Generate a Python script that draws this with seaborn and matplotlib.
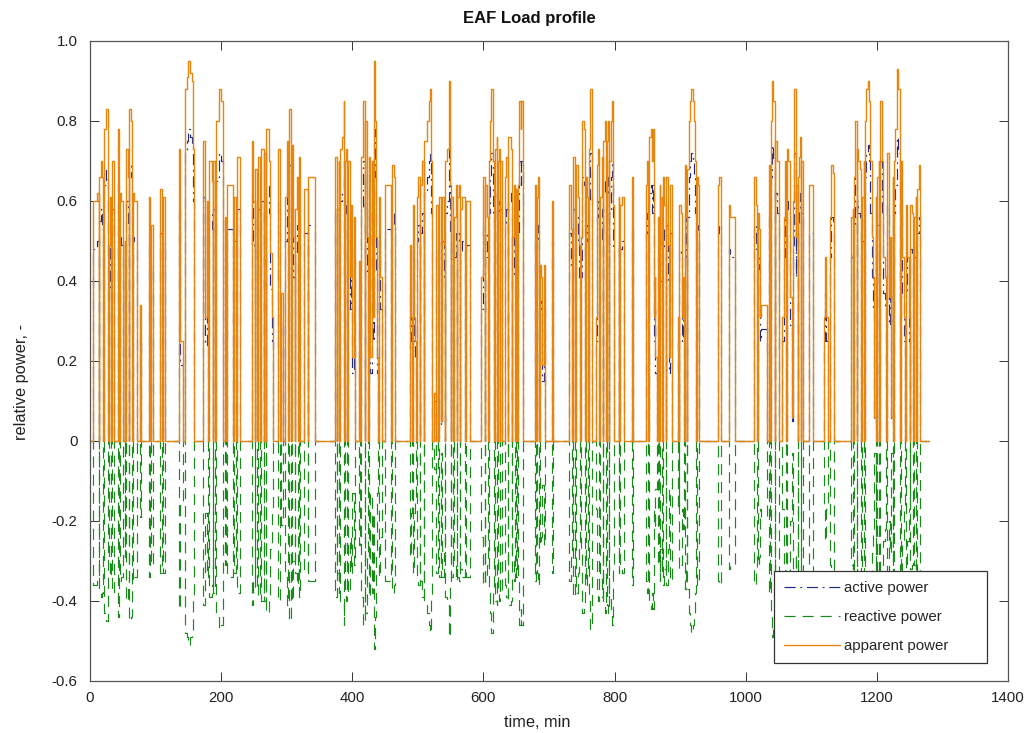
import matplotlib
matplotlib.use("Agg")
import matplotlib.pyplot as plt
import numpy as np
import pandas as pd
import seaborn as sns

# ---------------- data (step values) ----------------
time_min = [
    0, 5, 10, 13, 14, 17, 19, 20, 21, 24, 27, 28, 29, 31, 32, 33, 36, 37, 42, 44, 45, 47, 50, 53, 54, 55, 58, 59, 60, 63, 64, 65, 67, 72, 76, 78,
    90, 92, 93, 96, 107, 110, 111, 115, 136, 138, 142, 145, 148, 150, 153, 155, 157, 159,
    173, 176, 178, 180, 181, 186, 187, 188, 190, 191, 192, 197, 200, 203, 206, 208, 209, 218, 219, 223, 224, 228,
    247, 249, 251, 252, 254, 255, 256, 260, 261, 265, 266, 268, 269, 273, 275, 277, 279, 286, 290, 292, 295, 298, 300, 302, 303, 306, 307, 308, 310, 312, 313, 315, 317, 318, 320, 326, 332, 333, 343,
    373, 376, 377, 379, 380, 381, 384, 387, 388, 389, 391, 392, 393, 396, 398, 400, 402, 404, 410, 412, 413, 417, 419, 420, 423, 424, 425, 427, 430, 431, 433, 435, 436, 438, 439, 440, 442, 445, 450, 459, 460, 463, 465,
    488, 490, 491, 492, 494, 496, 497, 498, 500, 503, 504, 507, 509, 510, 514, 517, 519, 520, 522, 525, 527, 528, 530, 531, 532, 535, 537, 540, 541, 542, 545, 547, 549, 550, 551, 553, 554, 555, 558, 559, 560, 563, 564, 565, 568, 572, 573, 580,
    596, 599, 602, 603, 606, 607, 608, 610, 612, 615, 616, 617, 620, 621, 622, 624, 625, 626, 628, 633, 635, 637, 638, 642, 643, 644, 647, 648, 649, 651, 653, 655, 657, 658, 660, 678, 680, 681, 683, 685, 686, 688, 690, 692, 694, 704, 706,
    731, 734, 735, 736, 739, 740, 741, 744, 746, 748, 749, 751, 754, 755, 756, 758, 760, 761, 763, 765, 772, 773, 775, 776, 778, 781, 782, 783, 786, 787, 788, 790, 791, 792, 794, 796, 797, 799, 806, 807, 808, 812, 815, 826, 828,
    848, 850, 851, 852, 855, 857, 858, 860, 861, 862, 864, 866, 868, 869, 870, 872, 873, 874, 876, 878, 879, 881, 883, 885, 887, 897, 898, 899, 901, 903, 905, 906, 907, 909, 910, 911, 913, 915, 917, 919, 921, 923, 924, 925, 927, 929,
    958, 960, 962, 963, 974, 976, 984, 1012, 1015, 1017, 1018, 1020, 1022, 1024, 1032, 1035, 1037, 1038, 1040, 1042, 1044, 1045, 1047, 1050, 1051,
    1056, 1058, 1060, 1062, 1063, 1065, 1068, 1070, 1072, 1074, 1076, 1077, 1079, 1080, 1082, 1083, 1084, 1085, 1087, 1096, 1103, 1119, 1121, 1123, 1125, 1128, 1130, 1133, 1134,
    1160, 1163, 1164, 1165, 1167, 1169, 1170, 1172, 1175, 1176, 1177, 1180, 1181, 1182, 1184, 1186, 1188, 1190, 1192, 1194, 1196, 1198, 1199, 1200, 1203, 1204, 1205, 1208, 1210, 1213, 1214, 1215, 1218, 1220, 1222, 1224, 1225, 1226,
    1228, 1231, 1233, 1235, 1236, 1237, 1239, 1241, 1243, 1244, 1246, 1249, 1250, 1251, 1254, 1255, 1256, 1259, 1260, 1261, 1264, 1266, 1280,
]

apparent_power = [
    0, .60, .62, 0, .66, .70, .66, 0, .78, .83, .76, 0, .49, .61, 0, .70, .52, 0, .78, 0, .62, .60, 0, .50, 0, .73, .66, 0, .83, .80, 0, .62, .60, 0, .34, 0,
    .61, 0, .54, 0, .63, 0, .61, 0, .73, .25, 0, .88, .91, .95, .92, .90, .73, 0,
    .75, .31, .60, 0, .70, .65, 0, .70, .41, 0, .80, .88, .85, 0, .56, 0, .64, 0, .61, 0, .71, 0,
    .75, .60, 0, .68, .45, 0, .71, 0, .73, 0, .72, 0, .78, .70, .47, .31, 0, .73, 0, .37, 0, .61, .75, 0, .83, .70, 0, .74, .51, 0, .58, .66, 0, .71, 0, .63, 0, .66, 0,
    .71, 0, .58, .70, 0, .73, .76, .85, 0, .70, .73, 0, .70, .41, .59, .21, .56, 0, .45, 0, .71, .85, 0, .80, .51, 0, .71, .21, .70, .31, .95, .80, .51, .21, 0, .61, .41, 0, .64, 0, .69, .66, 0,
    .49, .31, 0, .59, .31, .25, 0, .61, .66, 0, .64, .70, 0, .75, .80, .85, .88, .70, 0, .12, 0, .59, .49, 0, .61, .05, .61, .49, 0, .70, .73, .90, .64, 0, .61, .49, 0, .56, .64, 0, .61, .64, 0, .58, .61, 0, .60, 0,
    .41, .66, 0, .64, .56, 0, .70, .80, .88, .70, 0, .73, .76, 0, .70, .73, 0, .70, 0, .66, .71, 0, .76, .73, 0, .51, .64, 0, .63, 0, .64, .85, .78, .85, 0, .64, 0, .61, .66, 0, .44, .41, .19, .44, 0, .60, 0,
    .64, .53, 0, .71, .53, 0, .69, .61, .49, 0, .51, .80, .78, 0, .66, .61, 0, .73, .88, 0, .31, .69, .73, 0, .61, .71, 0, .75, .80, 0, .75, .80, 0, .70, .80, .85, .59, 0, .61, 0, .59, .61, 0, .66, 0,
    .64, .70, 0, .76, .78, .70, .78, .31, .41, .21, 0, .56, 0, .64, .49, .61, 0, .66, .59, 0, .66, .49, .21, .64, 0, .31, 0, .59, .57, .31, .41, 0, .69, .56, 0, .68, .80, .85, .88, .85, .80, .70, 0, .66, .64, 0,
    .64, .66, .64, 0, .59, .56, 0, .66, .59, 0, .57, .53, .31, .34, 0, .69, 0, .80, .90, .85, 0, .75, .70, .51, 0,
    .31, .56, .70, 0, .73, .70, .36, .06, .60, .88, .51, .64, 0, .66, .71, .76, 0, .70, 0, .64, 0, .31, .46, .31, 0, .56, .69, .67, 0,
    .56, .58, 0, .66, .80, 0, .73, .70, .68, 0, .61, .70, 0, .80, .88, .90, .85, .70, .51, .41, .06, .61, 0, .66, .70, 0, .85, .70, .46, .41, 0, .72, .36, .51, .06, .66, 0, .70,
    .78, .93, .88, .61, 0, .70, .46, .31, 0, .59, .46, .31, 0, .59, .57, 0, .56, .61, 0, .63, .69, 0, 0,
]

active_power = [
    0, .48, .50, 0, .55, .58, .53, 0, .64, .68, .62, 0, .38, .50, 0, .58, .42, 0, .64, 0, .51, .49, 0, .40, 0, .60, .54, 0, .69, .66, 0, .51, .50, 0, .27, 0,
    .50, 0, .44, 0, .52, 0, .50, 0, .59, .19, 0, .72, .75, .78, .76, .74, .60, 0,
    .61, .24, .49, 0, .57, .53, 0, .58, .33, 0, .65, .72, .70, 0, .46, 0, .53, 0, .50, 0, .58, 0,
    .62, .49, 0, .56, .36, 0, .58, 0, .60, 0, .59, 0, .64, .57, .38, .25, 0, .60, 0, .30, 0, .50, .62, 0, .69, .58, 0, .61, .41, 0, .47, .54, 0, .58, 0, .52, 0, .54, 0,
    .58, 0, .47, .57, 0, .60, .62, .70, 0, .57, .60, 0, .58, .33, .48, .17, .46, 0, .36, 0, .58, .70, 0, .66, .42, 0, .58, .17, .58, .25, .78, .66, .42, .17, 0, .50, .33, 0, .53, 0, .57, .54, 0,
    .39, .25, 0, .48, .25, .20, 0, .50, .54, 0, .52, .57, 0, .62, .66, .70, .72, .57, 0, .10, 0, .48, .40, 0, .50, .04, .50, .40, 0, .57, .60, .74, .52, 0, .50, .40, 0, .46, .52, 0, .50, .52, 0, .47, .50, 0, .49, 0,
    .33, .54, 0, .52, .46, 0, .57, .66, .72, .57, 0, .60, .62, 0, .57, .60, 0, .58, 0, .54, .58, 0, .62, .60, 0, .41, .52, 0, .52, 0, .52, .70, .64, .70, 0, .53, 0, .50, .54, 0, .35, .33, .15, .35, 0, .50, 0,
    .52, .43, 0, .58, .43, 0, .56, .50, .40, 0, .41, .66, .64, 0, .54, .50, 0, .60, .72, 0, .25, .56, .60, 0, .50, .58, 0, .62, .66, 0, .62, .66, 0, .57, .66, .70, .48, 0, .50, 0, .48, .50, 0, .54, 0,
    .52, .57, 0, .62, .64, .57, .64, .25, .33, .17, 0, .46, 0, .52, .40, .50, 0, .54, .48, 0, .54, .40, .17, .52, 0, .25, 0, .48, .46, .25, .33, 0, .56, .46, 0, .56, .66, .70, .72, .70, .66, .57, 0, .54, .52, 0,
    .52, .54, .52, 0, .48, .46, 0, .54, .48, 0, .46, .43, .25, .28, 0, .56, 0, .66, .74, .70, 0, .62, .57, .41, 0,
    .25, .46, .57, 0, .60, .57, .29, .05, .49, .72, .41, .52, 0, .54, .58, .62, 0, .57, 0, .52, 0, .25, .37, .25, 0, .46, .56, .55, 0,
    .46, .47, 0, .54, .66, 0, .60, .57, .56, 0, .50, .57, 0, .66, .72, .74, .70, .57, .41, .33, .05, .50, 0, .54, .57, 0, .70, .57, .37, .33, 0, .59, .29, .41, .05, .54, 0, .57,
    .64, .76, .72, .50, 0, .57, .37, .25, 0, .48, .37, .25, 0, .48, .47, 0, .46, .50, 0, .52, .56, 0, 0,
]

reactive_power = [
    0, -.36, -.35, 0, -.37, -.39, -.38, 0, -.43, -.45, -.42, 0, -.30, -.34, 0, -.38, -.30, 0, -.44, 0, -.35, -.34, 0, -.29, 0, -.40, -.37, 0, -.45, -.44, 0, -.35, -.34, 0, -.19, 0,
    -.34, 0, -.31, 0, -.33, 0, -.33, 0, -.42, -.15, 0, -.48, -.49, -.51, -.49, -.48, -.40, 0,
    -.41, -.18, -.34, 0, -.39, -.36, 0, -.38, -.24, 0, -.43, -.47, -.46, 0, -.31, 0, -.34, 0, -.33, 0, -.38, 0,
    -.41, -.34, 0, -.37, -.27, 0, -.39, 0, -.40, 0, -.40, 0, -.43, -.39, -.27, -.18, 0, -.40, 0, -.21, 0, -.34, -.41, 0, -.45, -.38, 0, -.40, -.30, 0, -.33, -.36, 0, -.39, 0, -.33, 0, -.35, 0,
    -.39, 0, -.33, -.38, 0, -.40, -.41, -.46, 0, -.38, -.40, 0, -.38, -.24, -.33, -.13, -.31, 0, -.26, 0, -.39, -.46, 0, -.43, -.29, 0, -.39, -.13, -.38, -.18, -.52, -.44, -.29, -.13, 0, -.34, -.24, 0, -.35, 0, -.38, -.36, 0,
    -.29, -.18, 0, -.33, -.18, -.15, 0, -.34, -.36, 0, -.35, -.39, 0, -.41, -.43, -.46, -.48, -.39, 0, -.07, 0, -.33, -.28, 0, -.34, -.03, -.34, -.28, 0, -.39, -.40, -.49, -.36, 0, -.34, -.28, 0, -.31, -.35, 0, -.34, -.35, 0, -.32, -.34, 0, -.34, 0,
    -.24, -.36, 0, -.35, -.31, 0, -.38, -.43, -.48, -.38, 0, -.40, -.41, 0, -.38, -.40, 0, -.38, 0, -.36, -.39, 0, -.41, -.40, 0, -.29, -.35, 0, -.34, 0, -.35, -.46, -.42, -.46, 0, -.35, 0, -.33, -.36, 0, -.26, -.24, -.11, -.26, 0, -.33, 0,
    -.35, -.29, 0, -.39, -.29, 0, -.38, -.33, -.27, 0, -.28, -.43, -.42, 0, -.36, -.33, 0, -.40, -.47, 0, -.17, -.37, -.40, 0, -.33, -.39, 0, -.41, -.43, 0, -.41, -.43, 0, -.38, -.43, -.46, -.32, 0, -.33, 0, -.32, -.33, 0, -.36, 0,
    -.35, -.38, 0, -.41, -.42, -.38, -.42, -.17, -.22, -.12, 0, -.31, 0, -.35, -.27, -.33, 0, -.36, -.32, 0, -.36, -.27, -.12, -.35, 0, -.17, 0, -.32, -.31, -.17, -.22, 0, -.37, -.31, 0, -.37, -.43, -.46, -.48, -.46, -.43, -.38, 0, -.36, -.35, 0,
    -.35, -.36, -.35, 0, -.32, -.31, 0, -.36, -.32, 0, -.31, -.29, -.17, -.19, 0, -.38, 0, -.43, -.49, -.46, 0, -.41, -.38, -.28, 0,
    -.17, -.31, -.38, 0, -.40, -.38, -.20, -.03, -.33, -.48, -.28, -.35, 0, -.36, -.39, -.41, 0, -.38, 0, -.35, 0, -.17, -.25, -.17, 0, -.31, -.37, -.36, 0,
    -.31, -.32, 0, -.36, -.43, 0, -.40, -.38, -.37, 0, -.33, -.38, 0, -.43, -.48, -.49, -.46, -.38, -.28, -.22, -.03, -.33, 0, -.36, -.38, 0, -.46, -.38, -.25, -.22, 0, -.39, -.20, -.28, -.03, -.36, 0, -.38,
    -.42, -.50, -.48, -.33, 0, -.38, -.25, -.17, 0, -.32, -.25, -.17, 0, -.32, -.31, 0, -.31, -.33, 0, -.34, -.37, 0, 0,
]

series_labels = ["active power", "reactive power", "apparent power"]
x_ticks = [0, 200, 400, 600, 800, 1000, 1200, 1400]
y_ticks = [-0.6, -0.4, -0.2, 0.0, 0.2, 0.4, 0.6, 0.8, 1.0]
y_tick_labels = ["-0.6", "-0.4", "-0.2", "0", "0.2", "0.4", "0.6", "0.8", "1.0"]

assert len(time_min) == len(apparent_power) == len(active_power) == len(reactive_power), (
    len(time_min), len(apparent_power), len(active_power), len(reactive_power))

# ---------------- styling ----------------
sns.set_theme(style="ticks")
plt.rcParams["font.family"] = ["Liberation Sans", "DejaVu Sans"]
plt.rcParams["lines.scale_dashes"] = False
plt.rcParams["axes.unicode_minus"] = False

C_ACTIVE = "#1c2a8c"
C_REACTIVE = "#1a8a1a"
C_APPARENT = "#e8850c"

df = pd.DataFrame({
    "time": time_min,
    "active": active_power,
    "reactive": reactive_power,
    "apparent": apparent_power,
})

fig = plt.figure(figsize=(10.33, 7.33), dpi=100)
fig.patch.set_facecolor("white")
ax = fig.add_axes([90 / 1033, 1 - 681 / 733, 918 / 1033, 640 / 733])
ax.set_facecolor("white")

specs = [
    ("active", C_ACTIVE, [8, 3.4, 1.3, 3.4], 0.85),
    ("reactive", C_REACTIVE, [8, 5], 0.85),
    ("apparent", C_APPARENT, None, 1.0),
]
for (col, color, dash, lw), lab in zip(specs, series_labels):
    sns.lineplot(data=df, x="time", y=col, ax=ax, color=color, linewidth=lw,
                 drawstyle="steps-post", estimator=None, sort=False, label=lab,
                 legend=False)
    line = ax.lines[-1]
    if dash is not None:
        line.set_dashes(dash)

ax.set_xlim(0, 1400)
ax.set_ylim(-0.6, 1.0)
ax.set_xticks(x_ticks)
ax.set_xticklabels([str(v) for v in x_ticks])
ax.set_yticks(y_ticks)
ax.set_yticklabels(y_tick_labels)

ax.tick_params(axis="both", direction="in", top=True, right=True, length=6.5,
               width=0.7, color="#333333", labelsize=10.8, labelcolor="#222222")
ax.tick_params(axis="x", pad=7)
ax.tick_params(axis="y", pad=9)
for sp in ax.spines.values():
    sp.set_visible(True)
    sp.set_color("#555555")
    sp.set_linewidth(0.9)

ax.set_xlabel("time, min", fontsize=11.8, color="#222222")
ax.set_ylabel("relative power, -", fontsize=11.8, color="#222222")
ax.xaxis.set_label_coords((537.5 - 90) / 918, (681 - 715) / 640)
ax.yaxis.set_label_coords((29 - 90) / 918, (681 - 382) / 640)

ax.set_title("EAF Load profile", fontsize=12, fontweight="bold", color="#111111",
             x=(529 - 90) / 918, pad=13)

handles = ax.lines[:3]
leg = ax.legend(handles, series_labels, loc="lower left",
                bbox_to_anchor=((774 - 90) / 918, (681 - 663) / 640,
                                (987 - 774) / 918, (663 - 571) / 640),
                mode="expand", borderaxespad=0, fontsize=10.8, handlelength=3.7,
                handletextpad=0.3, labelspacing=0.99, borderpad=0.68,
                fancybox=False, framealpha=1, edgecolor="#333333")
leg.get_frame().set_linewidth(0.9)

fig.savefig("out.png", dpi=100, facecolor="white")
